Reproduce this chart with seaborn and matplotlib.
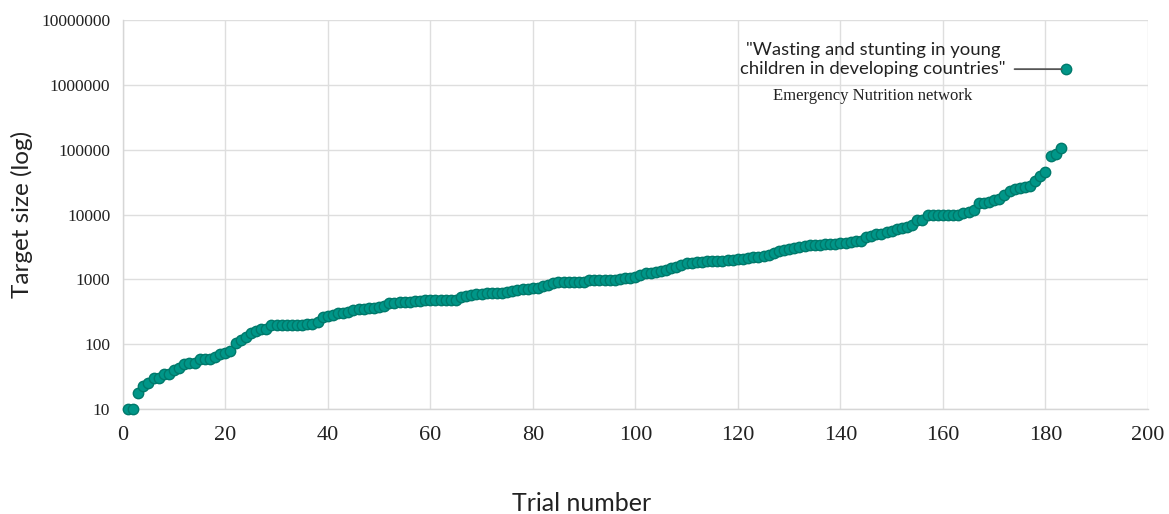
import numpy as np
import pandas as pd
import matplotlib
matplotlib.use("Agg")
import matplotlib.pyplot as plt
import seaborn as sns
from matplotlib.ticker import FuncFormatter, FixedLocator, NullLocator

# Target sample sizes of the trials, sorted ascending
target_size = [
    10, 10, 18, 23, 25, 30, 30, 35, 35, 40,
    43, 50, 52, 52, 60, 60, 60, 64, 70, 74,
    80, 105, 116, 128, 147, 160, 171, 175, 195, 200,
    200, 200, 200, 200, 200, 205, 207, 222, 260, 270,
    287, 300, 305, 316, 336, 345, 350, 357, 365, 375,
    395, 428, 440, 445, 450, 455, 465, 472, 480, 480,
    480, 480, 480, 485, 490, 540, 560, 575, 590, 600,
    610, 625, 625, 625, 635, 670, 685, 700, 710, 730,
    750, 790, 830, 880, 900, 900, 900, 900, 910, 920,
    977, 980, 980, 980, 980, 985, 1000, 1040, 1060, 1080,
    1170, 1240, 1270, 1300, 1350, 1400, 1480, 1550, 1650, 1770,
    1820, 1850, 1870, 1900, 1950, 1950, 1950, 1960, 1980, 2040,
    2100, 2150, 2200, 2240, 2300, 2400, 2550, 2700, 2830, 2940,
    3080, 3190, 3300, 3350, 3400, 3450, 3500, 3530, 3560, 3600,
    3700, 3760, 3850, 3960, 4450, 4600, 5000, 5000, 5300, 5550,
    5900, 6200, 6500, 6900, 8200, 8400, 9800, 10000, 10000, 10000,
    10000, 10000, 10000, 10400, 11000, 11700, 15000, 15000, 15500, 16700,
    17400, 20000, 23000, 24500, 25400, 26500, 27500, 33400, 39300, 44700,
    80000, 85700, 105000, 1750000,
]
trial_number = list(range(1, len(target_size) + 1))

x_ticks = [0, 20, 40, 60, 80, 100, 120, 140, 160, 180, 200]
y_ticks = [10, 100, 1000, 10000, 100000, 1000000, 10000000]

quote = '"Wasting and stunting in young\nchildren in developing countries"'
source = "Emergency Nutrition network"

df = pd.DataFrame({"trial": trial_number, "size": target_size})

sns.set_style("whitegrid", {"grid.color": "#dedede", "axes.edgecolor": "#d6d6d6"})

fig = plt.figure(figsize=(11.69, 5.14), dpi=100)
ax = fig.add_axes([0.105, 0.204, 0.877, 0.757])

sns.scatterplot(data=df, x="trial", y="size", ax=ax, s=56,
                color="#009688", edgecolor="#00796b", linewidth=1.0,
                zorder=3, clip_on=False)

ax.set_yscale("log")
ax.set_xlim(0, 200)
ax.set_ylim(10, 10000000)
ax.xaxis.set_major_locator(FixedLocator(x_ticks))
ax.yaxis.set_major_locator(FixedLocator(y_ticks))
ax.yaxis.set_minor_locator(NullLocator())
ax.yaxis.set_major_formatter(FuncFormatter(lambda v, p: f"{int(round(v))}"))
ax.grid(True, color="#dedede", linewidth=1.0)

for side in ["top", "right"]:
    ax.spines[side].set_visible(False)
for side in ["left", "bottom"]:
    ax.spines[side].set_color("#d6d6d6")
    ax.spines[side].set_linewidth(1.0)

ax.tick_params(axis="y", length=0, pad=9, labelsize=12.5, labelcolor="#222222")
ax.tick_params(axis="x", length=0, pad=12, labelsize=16, labelcolor="#222222")
for lab in ax.get_yticklabels():
    lab.set_family("Liberation Serif")
for lab in ax.get_xticklabels():
    lab.set_family("Liberation Serif")

ax.set_xlabel("Trial number", family="Lato", fontsize=18, color="#222222",
              va="center")
ax.xaxis.set_label_coords(0.448, -0.242)
ax.set_ylabel("Target size (log)", family="Lato", fontsize=17.5, color="#222222",
              ha="center", va="center")
ax.yaxis.set_label_coords(-0.0985, 0.5)

# Callout for the largest trial
last = (trial_number[-1], target_size[-1])
ax.annotate("", xy=last, xytext=(-37, 0), textcoords="offset points",
            arrowprops=dict(arrowstyle="-", color="#555555", lw=1.3,
                            shrinkA=0, shrinkB=3))
ax.annotate(quote, xy=last, xytext=(-139, 7), textcoords="offset points",
            ha="center", va="center", family="Lato", fontsize=13.3,
            color="#222222", linespacing=1.25)
ax.annotate(source, xy=last, xytext=(-139, -19.5), textcoords="offset points",
            ha="center", va="center", family="Liberation Serif", fontsize=12,
            color="#222222")

fig.savefig("out.png", dpi=100)
